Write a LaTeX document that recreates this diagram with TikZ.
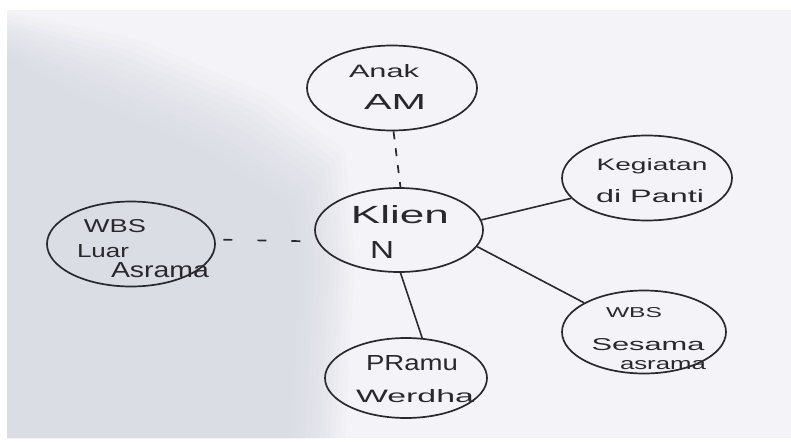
\documentclass[tikz,border=0pt]{standalone}
\usepackage{fontspec}
\setmainfont{Liberation Sans}
\usetikzlibrary{shapes.geometric}
\definecolor{paper}{RGB}{244,244,248}
\definecolor{shadowc}{RGB}{212,214,224}
\definecolor{ink}{RGB}{40,40,45}
\newcommand{\hwtext}[3]{\resizebox{#1pt}{#2pt}{#3}}
\begin{document}
\begin{tikzpicture}[x=1pt,y=-1pt,
  bubble/.style={ellipse, draw=ink, line width=1.7pt, inner sep=0pt},
  lbl/.style={anchor=base, inner sep=0pt, text=ink, font=\fontsize{14}{14}\selectfont},
  link/.style={draw=ink, line width=1.6pt},
  dashlink/.style={draw=ink, line width=1.7pt, dash pattern=on 8pt off 9pt},
  widedash/.style={draw=ink, line width=1.7pt, dash pattern=on 9pt off 25pt}]
\useasboundingbox (0,0) rectangle (791,441);
\fill[white] (0,0) rectangle (791,441);
\fill[paper] (7,10) rectangle (791,438);
% soft shadow on the paper
\foreach \k in {0,...,11}{
  \fill[shadowc, opacity=0.09]
    (7,{12+4*\k}) -- ({140-6*\k},{40+5*\k}) -- ({270-6*\k},{95+5*\k}) -- ({345-5*\k},{150+5*\k})
    -- ({355-5*\k},260) -- ({345-5*\k},438) -- (7,438) -- cycle;
}
% ellipses
\node[bubble, minimum width=170pt, minimum height=85pt] (anak) at (392,88) {};
\node[bubble, minimum width=168pt, minimum height=84pt] (klien) at (399,230) {};
\node[bubble, minimum width=168pt, minimum height=85pt] (luar) at (131,244) {};
\node[bubble, minimum width=170pt, minimum height=85pt] (keg) at (647,178) {};
\node[bubble, minimum width=164pt, minimum height=83pt] (sesama) at (644,332) {};
\node[bubble, minimum width=162pt, minimum height=80pt] (pramu) at (406,378) {};
% labels
\node[lbl] (tanak) at (384,78) {\hwtext{70}{13}{Anak}};
\node[lbl] (tam) at (395,110) {\hwtext{62}{15}{AM}};
\node[lbl] (tklien) at (400,223) {\hwtext{98}{18}{Klien}};
\node[lbl] (tn) at (382,258) {\hwtext{24}{17}{N}};
\node[lbl] (twbsl) at (115,232) {\hwtext{62}{13}{WBS}};
\node[lbl] (tluar) at (103,257) {\hwtext{52}{13}{Luar}};
\node[lbl] (tasr) at (160,277) {\hwtext{98}{15}{Asrama}};
\node[lbl] (tkeg) at (652,170) {\hwtext{111}{12}{Kegiatan}};
\node[lbl] (tdi) at (650,202) {\hwtext{108}{13}{di Panti}};
\node[lbl] (twbsr) at (634,317) {\hwtext{56}{10}{WBS}};
\node[lbl] (tses) at (648,350) {\hwtext{113}{12}{Sesama}};
\node[lbl] (tasr2) at (663,369) {\hwtext{86}{9}{asrama}};
\node[lbl] (tpramu) at (412,370) {\hwtext{92}{15}{PRamu}};
\node[lbl] (twer) at (415,402) {\hwtext{118}{13}{Werdha}};
% connectors
\draw[dashlink] (anak.-88) -- (klien.88);
\draw[widedash, shorten <=8pt, shorten >=4pt] (luar.3) -- (klien.188);
\draw[link] (klien.7) -- (keg.195);
\draw[link] (klien.-12) -- (sesama.154);
\draw[link] (klien.-88) -- (pramu.68);
\end{tikzpicture}
\end{document}
